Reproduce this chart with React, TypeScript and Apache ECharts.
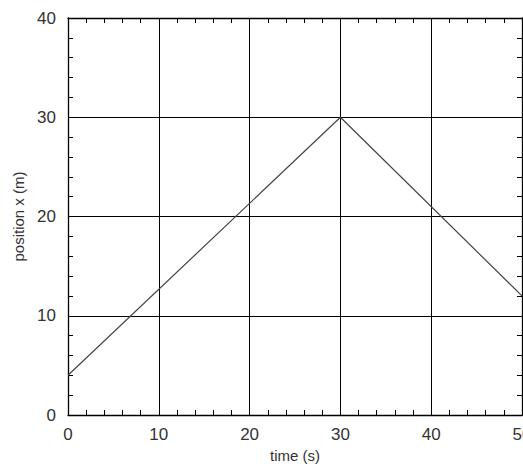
import React, { useEffect, useRef } from "react";
import * as echarts from "echarts";

const timeValues = [0, 30, 50];
const positionValues = [4, 30, 12];
const xTicks = [0, 10, 20, 30, 40, 50];
const yTicks = [0, 10, 20, 30, 40];
const minorStep = 2;
const xTitle = "time (s)";
const yTitle = "position x (m)";

export default function App() {
  const ref = useRef<HTMLDivElement>(null);
  useEffect(() => {
    document.body.style.margin = "0";
    const chart = echarts.init(ref.current!, null, { renderer: "svg" });
    const font = "Liberation Sans, Arial, Helvetica, sans-serif";
    const gridRect = { left: 68, right: 1, top: 18, bottom: 51, containLabel: false, outerBoundsMode: "none" };
    const xMin = xTicks[0];
    const xMax = xTicks[xTicks.length - 1];
    const yMin = yTicks[0];
    const yMax = yTicks[yTicks.length - 1];
    const tickAxis = (gridIndex: number, position: string, min: number, max: number) => ({
      type: "value" as const,
      gridIndex,
      position,
      min,
      max,
      interval: minorStep,
      axisLine: { show: true, onZero: false, lineStyle: { color: "#000", width: 1.3 } },
      axisTick: { show: true, inside: true, length: 5, lineStyle: { color: "#000", width: 1 } },
      axisLabel: { show: false },
      splitLine: { show: false },
    });
    chart.setOption({
      animation: false,
      grid: [gridRect, { ...gridRect }],
      xAxis: [
        {
          type: "value",
          gridIndex: 0,
          position: "bottom",
          min: xMin,
          max: xMax,
          interval: 10,
          name: xTitle,
          nameLocation: "middle",
          nameGap: 33,
          nameTextStyle: { color: "#333", fontSize: 15, fontFamily: font },
          axisLine: { show: false },
          axisTick: { show: false },
          axisLabel: { color: "#333", fontSize: 17, fontFamily: font, margin: 11, showMaxLabel: true },
          splitLine: { show: true, lineStyle: { color: "#000", width: 1 } },
        },
        tickAxis(1, "bottom", xMin, xMax),
        tickAxis(1, "top", xMin, xMax),
      ],
      yAxis: [
        {
          type: "value",
          gridIndex: 0,
          position: "left",
          min: yMin,
          max: yMax,
          interval: 10,
          name: yTitle,
          nameLocation: "middle",
          nameGap: 40,
          nameTextStyle: { color: "#333", fontSize: 15, fontFamily: font },
          axisLine: { show: false },
          axisTick: { show: false },
          axisLabel: { color: "#333", fontSize: 17, fontFamily: font, margin: 12 },
          splitLine: { show: true, lineStyle: { color: "#000", width: 1 } },
        },
        tickAxis(1, "left", yMin, yMax),
        tickAxis(1, "right", yMin, yMax),
      ],
      series: [
        {
          type: "line",
          data: timeValues.map((t, i) => [t, positionValues[i]]),
          showSymbol: false,
          lineStyle: { color: "#444", width: 1.2 },
          xAxisIndex: 0,
          yAxisIndex: 0,
        },
      ],
    });
    return () => chart.dispose();
  }, []);
  return <div ref={ref} style={{ width: 523, height: 466 }} />;
}
